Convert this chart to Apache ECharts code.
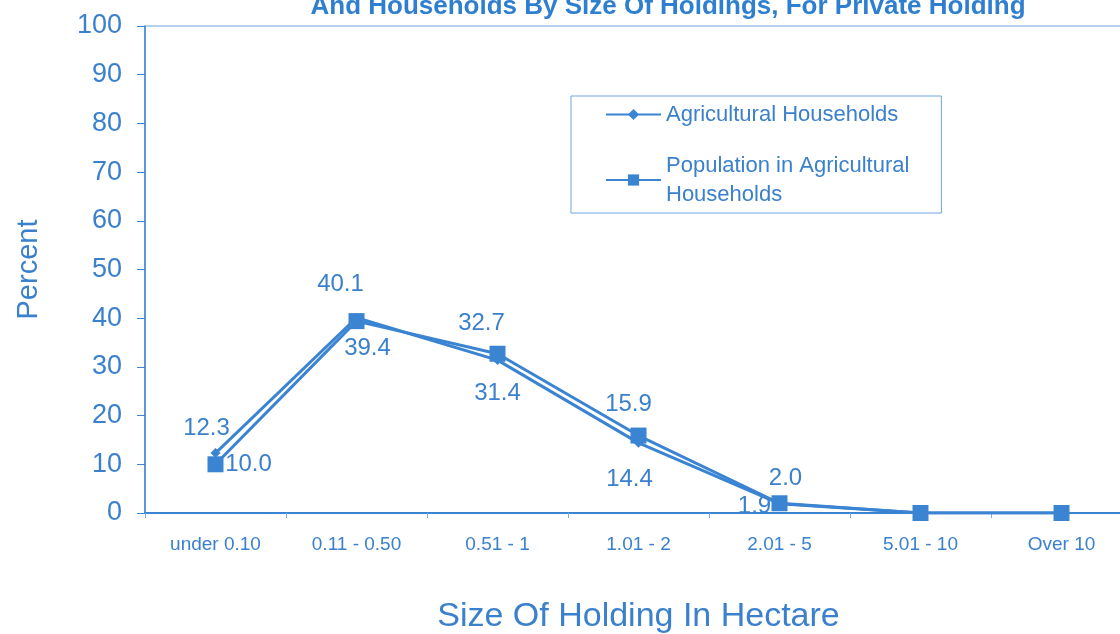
<!DOCTYPE html>
<html>
<head>
<meta charset="utf-8">
<title>Agricultural Households By Size Of Holdings</title>
<script src="https://cdn.jsdelivr.net/npm/echarts@6/dist/echarts.min.js"></script>
<style>
  html, body { margin: 0; padding: 0; background: #ffffff; }
  #chart { width: 1120px; height: 634px; }
</style>
</head>
<body>
<div id="chart"></div>
<script>
// Size-of-holding classes (hectare)
const categories = ['under 0.10', '0.11 - 0.50', '0.51 - 1', '1.01 - 2', '2.01 - 5', '5.01 - 10', 'Over 10'];
// Percent of agricultural households in each class
const households = [12.3, 40.1, 31.4, 14.4, 1.9, 0.0, 0.0];
// Percent of population living in agricultural households in each class
const population = [10.0, 39.4, 32.7, 15.9, 2.0, 0.0, 0.0];
// Y axis ticks
const yTicks = [0, 10, 20, 30, 40, 50, 60, 70, 80, 90, 100];

const BLUE = '#3a84d2';
const TEXT = '#3a80cc';
const FONT = "'Liberation Sans', Arial, sans-serif";

// Where each value label sits relative to its point (null = no label)
const householdLabelOffsets = [[-9, -25], [-16, -33], [0, 33], [-9, 37], [-25, 3], null, null];
const populationLabelOffsets = [[33, 0], [11, 27], [-16, -30], [-10, -31], [6, -25], null, null];

function withLabels(values, offsets) {
  return values.map((v, i) => {
    const off = offsets[i];
    if (!off) return { value: v, label: { show: false } };
    return {
      value: v,
      label: {
        show: true,
        position: 'inside',
        offset: off,
        formatter: (p) => Number(p.value).toFixed(1)
      }
    };
  });
}

const chart = echarts.init(document.getElementById('chart'), null, { renderer: 'canvas' });

chart.setOption({
  backgroundColor: '#ffffff',
  animation: false,
  textStyle: { fontFamily: FONT },
  title: {
    text: 'And Households By Size Of Holdings, For Private Holding',
    left: 668,
    textAlign: 'center',
    top: -6,
    padding: 0,
    textStyle: { color: '#2f7fd0', fontSize: 26, fontWeight: 'bold', fontFamily: FONT }
  },
  grid: {
    left: 145,
    top: 26,
    width: 987,
    height: 487,
    outerBoundsMode: 'none',
    containLabel: false,
    show: true,
    borderColor: '#6ea4dc',
    borderWidth: 1,
    backgroundColor: 'transparent'
  },
  legend: {
    orient: 'vertical',
    left: 571,
    top: 96,
    padding: [4, 32, 4, 34],
    itemGap: 22,
    itemWidth: 55,
    itemHeight: 14,
    borderColor: '#6ea4dc',
    borderWidth: 1,
    borderRadius: 0,
    backgroundColor: '#ffffff',
    textStyle: { color: TEXT, fontSize: 22, lineHeight: 29, fontFamily: FONT },
    data: [
      { name: 'Agricultural Households' },
      { name: 'Population in Agricultural\nHouseholds' }
    ]
  },
  xAxis: {
    type: 'category',
    data: categories,
    boundaryGap: true,
    name: 'Size Of Holding In Hectare',
    nameLocation: 'middle',
    nameGap: 87,
    nameTextStyle: { color: TEXT, fontSize: 34, fontFamily: FONT },
    axisLine: { lineStyle: { color: BLUE, width: 2 } },
    axisTick: { show: true, length: 5, inside: false, lineStyle: { color: '#7aaee0', width: 1 } },
    axisLabel: { color: TEXT, fontSize: 19, margin: 22, fontFamily: FONT },
    splitLine: { show: false }
  },
  yAxis: {
    type: 'value',
    min: 0,
    max: 100,
    interval: 10,
    name: 'Percent',
    nameLocation: 'middle',
    nameGap: 102,
    nameRotate: 90,
    nameTextStyle: { color: TEXT, fontSize: 29, fontFamily: FONT },
    axisLine: { show: true, lineStyle: { color: BLUE, width: 1.5 } },
    axisTick: { show: true, length: 8, inside: false, lineStyle: { color: BLUE, width: 1 } },
    axisLabel: {
      color: TEXT,
      fontSize: 27,
      margin: 23,
      fontFamily: FONT,
      formatter: (v) => (yTicks.indexOf(v) >= 0 ? String(v) : '')
    },
    splitLine: { show: false }
  },
  series: [
    {
      name: 'Agricultural Households',
      type: 'line',
      data: withLabels(households, householdLabelOffsets),
      symbol: 'diamond',
      symbolSize: 10,
      showAllSymbol: true,
      lineStyle: { color: BLUE, width: 3 },
      itemStyle: { color: BLUE },
      label: { color: TEXT, fontSize: 24, fontFamily: FONT },
      z: 2
    },
    {
      name: 'Population in Agricultural\nHouseholds',
      type: 'line',
      data: withLabels(population, populationLabelOffsets),
      symbol: 'rect',
      symbolSize: 16,
      showAllSymbol: true,
      lineStyle: { color: BLUE, width: 3 },
      itemStyle: { color: BLUE },
      label: { color: TEXT, fontSize: 24, fontFamily: FONT },
      z: 3
    }
  ]
});
</script>
</body>
</html>
